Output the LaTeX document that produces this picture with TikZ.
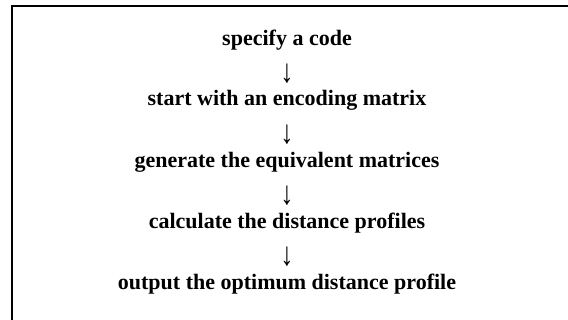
\documentclass[tikz,border=0pt]{standalone}
\usepackage{fontspec}
\setmainfont{Liberation Serif}
\begin{document}
\begin{tikzpicture}[x=1pt,y=-1pt,
  lbl/.style={font=\fontsize{22}{26}\selectfont\bfseries, anchor=base, inner sep=0pt},
  arr/.style={font=\fontsize{22}{26}\selectfont, anchor=center, inner sep=0pt, xscale=1.2, yscale=1.5},
  frame/.style={line width=1.8pt}]
\useasboundingbox (0,0) rectangle (568,320);
\draw[frame] (12,320) -- (12,6) -- (568,6);
\node[lbl] (s1) at (287,46) {specify a code};
\node[arr] (a1) at (287,74) {↓};
\node[lbl] (s2) at (287,106) {start with an encoding matrix};
\node[arr] (a2) at (287,135) {↓};
\node[lbl] (s3) at (287,168) {generate the equivalent matrices};
\node[arr] (a3) at (287,196) {↓};
\node[lbl] (s4) at (287,229) {calculate the distance profiles};
\node[arr] (a4) at (287,257) {↓};
\node[lbl] (s5) at (287,290) {output the optimum distance profile};
\end{tikzpicture}
\end{document}
